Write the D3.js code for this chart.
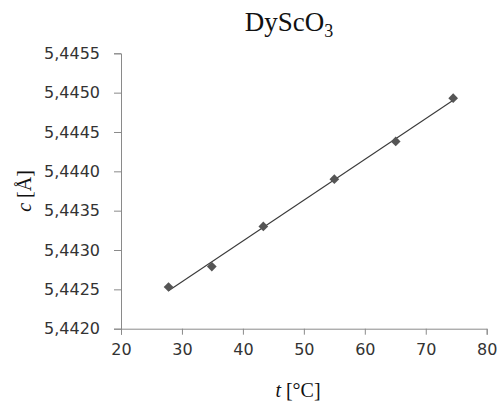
<!DOCTYPE html>
<html>
<head>
<meta charset="utf-8">
<script src="https://cdn.jsdelivr.net/npm/d3@7"></script>
<style>
  body { margin: 0; background: #fff; }
  svg { display: block; }
</style>
</head>
<body>
<div id="chart"></div>
<script>
// Data
const temps = [27.8, 34.9, 43.35, 55.0, 65.07, 74.5];
const cValues = [5.44253, 5.44279, 5.44330, 5.44390, 5.44438, 5.44493];
const xTicks = [20, 30, 40, 50, 60, 70, 80];
const yTicks = [5.4420, 5.4425, 5.4430, 5.4435, 5.4440, 5.4445, 5.4450, 5.4455];

const W = 499, H = 403;
const PLOT = { left: 121, right: 486.7, top: 53.3, bottom: 328.7 };

const svg = d3.select("#chart").append("svg")
    .attr("width", W)
    .attr("height", H);

const x = d3.scaleLinear().domain([20, 80]).range([PLOT.left, PLOT.right]);
const y = d3.scaleLinear().domain([5.4420, 5.4455]).range([PLOT.bottom, PLOT.top]);

const fmt = d => d3.format(".4f")(d).replace(".", ",");

// Y axis
svg.append("g")
    .attr("transform", `translate(${PLOT.left},0)`)
    .call(d3.axisLeft(y).tickValues(yTicks).tickFormat(fmt).tickSizeOuter(0).tickSize(7).tickPadding(14))
    .call(g => g.selectAll("path, line").attr("stroke", "#8a8a8a"))
    .call(g => g.selectAll("text")
        .attr("fill", "#333")
        .style("font-family", "DejaVu Sans")
        .style("font-size", "16px"));

// X axis
svg.append("g")
    .attr("transform", `translate(0,${PLOT.bottom})`)
    .call(d3.axisBottom(x).tickValues(xTicks).tickSizeOuter(0).tickSize(6).tickPadding(9))
    .call(g => g.selectAll("path, line").attr("stroke", "#8a8a8a"))
    .call(g => g.selectAll("text")
        .attr("fill", "#333")
        .style("font-family", "DejaVu Sans")
        .style("font-size", "16px"));

// Linear trendline (least squares over the points)
const n = temps.length;
const mx = d3.mean(temps), my = d3.mean(cValues);
const slope = d3.sum(temps, (t, i) => (t - mx) * (cValues[i] - my)) / d3.sum(temps, t => (t - mx) ** 2);
const icpt = my - slope * mx;
const tExt = d3.extent(temps);

svg.append("path")
    .datum(tExt)
    .attr("fill", "none")
    .attr("stroke", "#3a3a3a")
    .attr("stroke-width", 1.1)
    .attr("d", d3.line().x(t => x(t)).y(t => y(icpt + slope * t)));

// Markers
svg.append("g")
    .selectAll("path")
    .data(temps)
    .join("path")
    .attr("transform", (t, i) => `translate(${x(t)},${y(cValues[i])})`)
    .attr("d", d3.symbol(d3.symbolDiamond2, 60)())
    .attr("fill", "#555");

// Title
svg.append("text")
    .attr("x", 289)
    .attr("y", 31)
    .attr("text-anchor", "middle")
    .style("font-family", "Liberation Serif")
    .style("font-size", "27px")
    .attr("fill", "#111")
    .call(t => {
        t.append("tspan").text("DyScO");
        t.append("tspan").attr("dy", 6).style("font-size", "18px").text("3");
    });

// Axis titles
svg.append("text")
    .attr("x", 298)
    .attr("y", 397)
    .attr("text-anchor", "middle")
    .style("font-family", "Liberation Serif")
    .style("font-size", "20px")
    .attr("fill", "#111")
    .call(t => {
        t.append("tspan").style("font-style", "italic").text("t");
        t.append("tspan").text(" [°C]");
    });

svg.append("text")
    .attr("transform", "translate(31,191) rotate(-90)")
    .attr("text-anchor", "middle")
    .style("font-family", "Liberation Serif")
    .style("font-size", "20px")
    .attr("fill", "#111")
    .call(t => {
        t.append("tspan").style("font-style", "italic").text("c");
        t.append("tspan").text(" [Å]");
    });
</script>
</body>
</html>
